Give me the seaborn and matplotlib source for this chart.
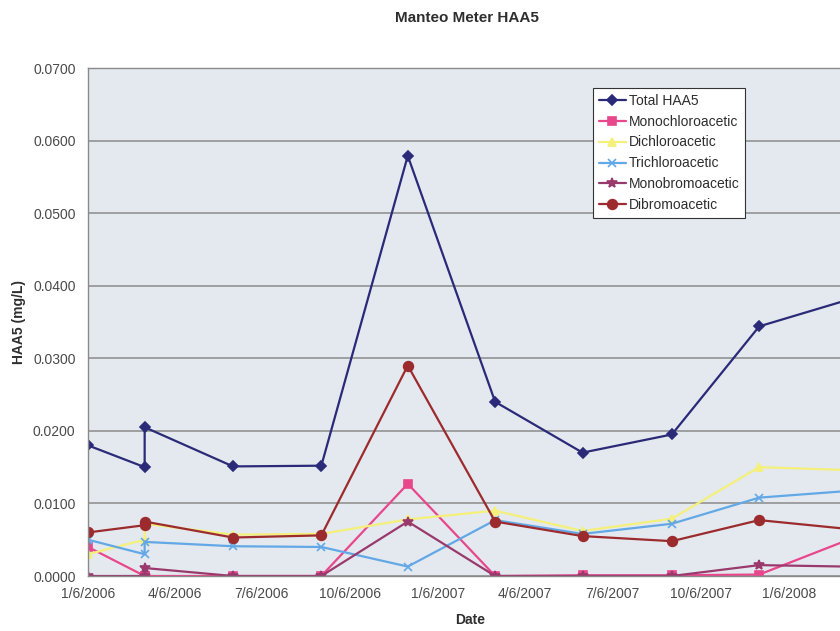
import matplotlib
matplotlib.use("Agg")
import matplotlib.pyplot as plt
import matplotlib.dates as mdates
import numpy as np
import pandas as pd
import seaborn as sns

# Sampling dates (two samples were taken on 3/6/2006)
dates = ["2006-01-06", "2006-03-06", "2006-03-06", "2006-06-06", "2006-09-06",
         "2006-12-05", "2007-03-06", "2007-06-05", "2007-09-06", "2007-12-06",
         "2008-03-06"]

total_haa5 = [0.0180, 0.0150, 0.0205, 0.0151, 0.0152, 0.0579, 0.0240, 0.0170,
              0.0195, 0.0344, 0.0380]
monochloroacetic = [0.0040, 0.0000, 0.0000, 0.0000, 0.0000, 0.0127, 0.0000,
                    0.0001, 0.0001, 0.0002, 0.0049]
dichloroacetic = [0.0030, 0.0050, 0.0072, 0.0057, 0.0058, 0.0078, 0.0090,
                  0.0062, 0.0079, 0.0150, 0.0146]
trichloroacetic = [0.0050, 0.0030, 0.0047, 0.0041, 0.0040, 0.0013, 0.0077,
                   0.0058, 0.0072, 0.0108, 0.0117]
monobromoacetic = [0.0000, 0.0000, 0.0011, 0.0000, 0.0000, 0.0075, 0.0000,
                   0.0000, 0.0000, 0.0015, 0.0013]
dibromoacetic = [0.0060, 0.0070, 0.0075, 0.0053, 0.0056, 0.0290, 0.0075,
                 0.0055, 0.0048, 0.0077, 0.0065]

series_names = ["Total HAA5", "Monochloroacetic", "Dichloroacetic",
                "Trichloroacetic", "Monobromoacetic", "Dibromoacetic"]
series_values = [total_haa5, monochloroacetic, dichloroacetic,
                 trichloroacetic, monobromoacetic, dibromoacetic]

tick_dates = ["2006-01-06", "2006-04-06", "2006-07-06", "2006-10-06",
              "2007-01-06", "2007-04-06", "2007-07-06", "2007-10-06",
              "2008-01-06"]
tick_labels = ["1/6/2006", "4/6/2006", "7/6/2006", "10/6/2006", "1/6/2007",
               "4/6/2007", "7/6/2007", "10/6/2007", "1/6/2008"]
y_ticks = [0.0, 0.01, 0.02, 0.03, 0.04, 0.05, 0.06, 0.07]

styles = {
    "Total HAA5": dict(color="#2a2a78", marker="D", ms=5),
    "Monochloroacetic": dict(color="#e8478c", marker="s", ms=6),
    "Dichloroacetic": dict(color="#f4f07a", marker="^", ms=6),
    "Trichloroacetic": dict(color="#62a8e6", marker="x", ms=6),
    "Monobromoacetic": dict(color="#9a3a6c", marker="*", ms=7),
    "Dibromoacetic": dict(color="#9c2b2e", marker="o", ms=7),
}

sns.set_theme(style="white")
plt.rcParams["font.family"] = ["Liberation Sans", "DejaVu Sans"]

W, H = 840, 631
fig = plt.figure(figsize=(W / 100, H / 100), dpi=100)
fig.patch.set_facecolor("white")

# plot area: left edge at 88px, top 68px, bottom 576px; it runs past the right edge
left_px, top_px, bottom_px, right_px = 88, 68, 576, 900
ax = fig.add_axes([left_px / W, 1 - bottom_px / H,
                   (right_px - left_px) / W, (bottom_px - top_px) / H])
ax.set_facecolor("#e4e9ef")

x = pd.to_datetime(dates)
for name, vals in zip(series_names, series_values):
    st = styles[name]
    sns.lineplot(x=x, y=vals, ax=ax, estimator=None, sort=False,
                 color=st["color"], marker=st["marker"], markersize=st["ms"],
                 markeredgecolor=st["color"], markeredgewidth=1.2,
                 linewidth=1.6, label=name)

start = pd.Timestamp("2006-01-06")
px_per_day = 701 / 730
x_end = start + pd.Timedelta(days=(right_px - left_px) / px_per_day)
ax.set_xlim(mdates.date2num(start), mdates.date2num(x_end))
ax.set_ylim(0, 0.07)

ax.set_xticks(mdates.date2num(pd.to_datetime(tick_dates)))
ax.set_xticklabels(tick_labels)
ax.set_yticks(y_ticks)
ax.set_yticklabels([f"{v:.4f}" for v in y_ticks])

ax.yaxis.grid(True, color="#8a8a8a", linewidth=1.1)
ax.xaxis.grid(False)
ax.set_axisbelow(True)
for s in ax.spines.values():
    s.set_color("#8a8a8a")
    s.set_linewidth(1.0)

ax.tick_params(axis="both", which="major", labelsize=10, labelcolor="#4a4a4a",
               color="#8a8a8a", direction="out", length=4, width=1)
ax.tick_params(axis="x", pad=4)
ax.tick_params(axis="y", pad=5)

ax.set_xlabel("")
ax.set_ylabel("")
fig.text(470 / W, 1 - 620 / H, "Date", ha="center", va="center",
         fontsize=10, fontweight="bold", color="#2e2e2e")
fig.text(19 / W, 1 - 322 / H, "HAA5 (mg/L)", ha="center", va="center",
         rotation=90, fontsize=10, fontweight="bold", color="#2e2e2e")
fig.text(467 / W, 1 - 18 / H, "Manteo Meter HAA5", ha="center", va="center",
         fontsize=11, fontweight="bold", color="#2e2e2e")

leg = ax.legend(loc="upper left", bbox_to_anchor=(593 / W, 1 - 88 / H),
                bbox_transform=fig.transFigure, frameon=True, fancybox=False,
                fontsize=10, handlelength=2.0, handletextpad=0.2,
                borderpad=0.4, labelspacing=0.5, borderaxespad=0)
leg.get_frame().set_edgecolor("#333333")
leg.get_frame().set_linewidth(0.8)
leg.get_frame().set_facecolor("white")
leg.get_frame().set_alpha(1)
for t in leg.get_texts():
    t.set_color("#2e2e2e")

fig.savefig("out.png", dpi=100)
